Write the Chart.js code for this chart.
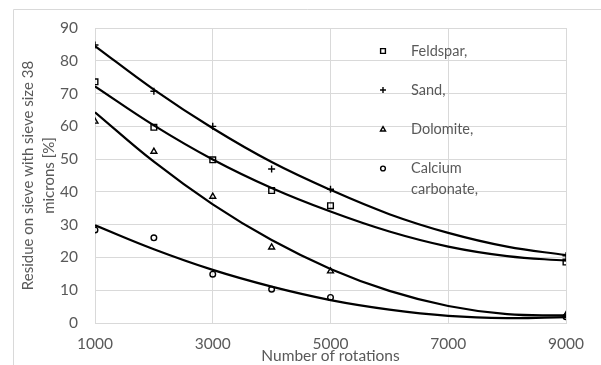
<!DOCTYPE html>
<html>
<head>
<meta charset="utf-8">
<script src="https://cdn.jsdelivr.net/npm/chart.js@4.4.1/dist/chart.umd.min.js"></script>
<style>
  html, body { margin: 0; padding: 0; background: #fff; }
  #wrap { width: 601px; height: 365px; }
</style>
</head>
<body>
<div id="wrap"><canvas id="chart" width="601" height="365"></canvas></div>
<script>
// measured points (x = number of rotations)
const rotations = [1000, 2000, 3000, 4000, 5000, 9000];
const feldspar = [73.6, 59.7, 49.8, 40.4, 35.8, 18.6];
const sand = [84.8, 70.7, 60.0, 47.0, 40.8, 20.5];
const dolomite = [61.5, 52.3, 38.6, 23.1, 15.8, 2.4];
const calcium = [28.4, 26.0, 14.9, 10.3, 7.8, 1.9];

// trend curves, every 1000 rotations
const trendX = [1000, 2000, 3000, 4000, 5000, 6000, 7000, 8000, 9000];
const feldsparTrend = [72.2, 60.3, 49.9, 41.2, 34.0, 27.9, 23.3, 20.4, 19.0];
const sandTrend = [84.5, 71.2, 59.4, 49.1, 40.6, 33.2, 27.5, 23.3, 20.7];
const dolomiteTrend = [64.3, 49.2, 36.2, 25.3, 16.5, 9.8, 5.2, 2.7, 2.3];
const calciumTrend = [29.8, 22.5, 16.2, 11.1, 7.0, 4.1, 2.2, 1.5, 1.8];

const xTicks = [1000, 3000, 5000, 7000, 9000];
const yTicks = [0, 10, 20, 30, 40, 50, 60, 70, 80, 90];

const seriesNames = ['Feldspar,', 'Sand,', 'Dolomite,', ['Calcium', 'carbonate,']];
const seriesMarkers = ['rect', 'cross', 'triangle', 'circle'];
const seriesRadius = [4.0, 3.5, 3.4, 2.8];

const textColor = '#595959';
const gridColor = '#d9d9d9';
const fontFamily = 'Lato, "Open Sans", sans-serif';

function toPoints(xs, ys) {
    return ys.map((y, i) => ({ x: xs[i], y: y }));
}

const pointSets = [feldspar, sand, dolomite, calcium];
const trendSets = [feldsparTrend, sandTrend, dolomiteTrend, calciumTrend];

const datasets = [];
pointSets.forEach((values, i) => {
    datasets.push({
        label: Array.isArray(seriesNames[i]) ? seriesNames[i].join(' ') : seriesNames[i],
        data: toPoints(rotations, values),
        pointStyle: seriesMarkers[i],
        pointRadius: seriesRadius[i],
        pointBorderColor: '#000',
        pointBackgroundColor: 'rgba(0,0,0,0)',
        pointBorderWidth: 1.4,
        showLine: false,
        order: 0
    });
});
trendSets.forEach((values) => {
    datasets.push({
        label: '',
        data: toPoints(trendX, values),
        showLine: true,
        borderColor: '#000',
        borderWidth: 2.2,
        pointRadius: 0,
        tension: 0.4,
        order: 1
    });
});

// outer frame and the in-plot legend
const framePlugin = {
    id: 'frame',
    beforeDraw(chart) {
        const ctx = chart.ctx;
        ctx.save();
        ctx.strokeStyle = gridColor;
        ctx.lineWidth = 1;
        ctx.beginPath();
        ctx.moveTo(13.5, 365);
        ctx.lineTo(13.5, 9.5);
        ctx.lineTo(601, 9.5);
        ctx.stroke();
        ctx.restore();
    },
    afterDraw(chart) {
        const ctx = chart.ctx;
        const rows = [51, 90, 129.5, 168.5];
        ctx.save();
        ctx.font = '14.5px ' + fontFamily;
        ctx.textBaseline = 'middle';
        ctx.textAlign = 'left';
        seriesNames.forEach((name, i) => {
            ctx.strokeStyle = '#000';
            ctx.fillStyle = 'rgba(0,0,0,0)';
            ctx.lineWidth = 1.4;
            Chart.helpers.drawPoint(ctx, {
                pointStyle: seriesMarkers[i],
                radius: seriesRadius[i] * 0.85,
                borderWidth: 1.4
            }, 383, rows[i]);
            ctx.fillStyle = textColor;
            const lines = Array.isArray(name) ? name : [name];
            lines.forEach((line, j) => ctx.fillText(line, 411, rows[i] + j * 21));
        });
        ctx.restore();
    }
};

new Chart(document.getElementById('chart'), {
    type: 'scatter',
    data: { datasets: datasets },
    plugins: [framePlugin],
    options: {
        responsive: false,
        animation: false,
        layout: { padding: { top: 28, right: 35, bottom: 0, left: 0 } },
        plugins: {
            legend: { display: false },
            tooltip: { enabled: false }
        },
        scales: {
            x: {
                type: 'linear',
                min: 1000,
                max: 9000,
                afterBuildTicks: (axis) => { axis.ticks = xTicks.map(v => ({ value: v })); },
                afterFit: (axis) => { axis.height = 42; },
                grid: { color: gridColor, drawTicks: false },
                border: { color: gridColor },
                ticks: {
                    color: textColor,
                    padding: 12,
                    maxRotation: 0,
                    font: { family: fontFamily, size: 15.5 },
                    callback: (v) => String(v)
                },
                title: {
                    display: true,
                    text: 'Number of rotations',
                    color: textColor,
                    padding: { top: 0, bottom: 0 },
                    font: { family: fontFamily, size: 15.5, lineHeight: 1.2 }
                }
            },
            y: {
                min: 0,
                max: 90,
                afterBuildTicks: (axis) => { axis.ticks = yTicks.map(v => ({ value: v })); },
                afterFit: (axis) => { axis.width = 95; },
                grid: { color: gridColor, drawTicks: false },
                border: { color: gridColor },
                ticks: {
                    color: textColor,
                    padding: 17,
                    font: { family: fontFamily, size: 15.5 }
                },
                title: {
                    display: true,
                    text: ['Residue on sieve with sieve size 38', 'microns [%]'],
                    color: textColor,
                    padding: { top: 18, bottom: 0 },
                    font: { family: fontFamily, size: 15, lineHeight: 1.4 }
                }
            }
        }
    }
});
</script>
</body>
</html>
